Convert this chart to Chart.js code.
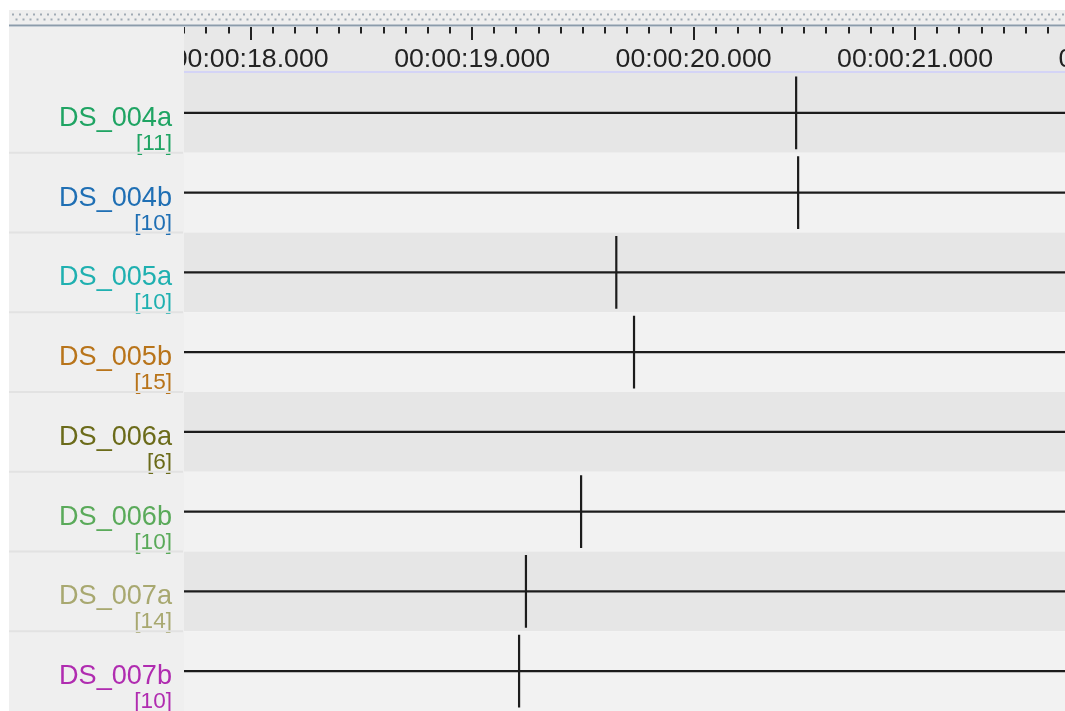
<!DOCTYPE html>
<html>
<head>
<meta charset="utf-8">
<script src="https://cdn.jsdelivr.net/npm/chart.js@4"></script>
<style>
  html, body { margin: 0; padding: 0; background: #fff; }
  #timeline { display: block; }
</style>
</head>
<body>
<canvas id="timeline" width="1065" height="711"></canvas>
<script>
// rows (top to bottom)
var rowNames = ['DS_004a', 'DS_004b', 'DS_005a', 'DS_005b', 'DS_006a', 'DS_006b', 'DS_007a', 'DS_007b'];
var rowCounts = ['[11]', '[10]', '[10]', '[15]', '[6]', '[10]', '[14]', '[10]'];
var rowColors = ['#1fa463', '#1f6fb4', '#1fb0b0', '#b8741a', '#6b6b1a', '#5aaa5a', '#a8a870', '#b02cb0'];
// event time (seconds) for each row, null = no event in view
var eventTimes = [20.463, 20.472, 19.651, 19.731, null, 19.492, 19.243, 19.212];
// ruler
var tickValues = [18, 19, 20, 21, 22];
var tickLabels = ['00:00:18.000', '00:00:19.000', '00:00:20.000', '00:00:21.000', '00:00:22.000'];
var xMin = 17.699, xMax = 21.677;

var FONT = '"Liberation Sans", Arial, sans-serif';

// horizontal squeeze so a sample string hits a given width
function fitScale(ctx, size, sample, width) {
  ctx.save();
  ctx.font = size + 'px ' + FONT;
  var w = ctx.measureText(sample).width;
  ctx.restore();
  return width / w;
}

function squeezedText(ctx, text, x, y, size, color, align, sx) {
  ctx.save();
  ctx.font = size + 'px ' + FONT;
  ctx.fillStyle = color;
  ctx.textAlign = align;
  ctx.textBaseline = 'alphabetic';
  ctx.translate(x, y);
  ctx.scale(sx, 1);
  ctx.fillText(text, 0, 0);
  ctx.restore();
}

var timelinePlugin = {
  id: 'timeline',
  beforeDraw: function(chart) {
    var ctx = chart.ctx;
    var area = chart.chartArea;
    var xs = chart.scales.x, ys = chart.scales.y;
    var timeSx = fitScale(ctx, 26, '00:00:19.000', 156);
    var nameSx = fitScale(ctx, 28, 'DS_004a', 113);
    var countSx = fitScale(ctx, 22, '[11]', 36);
    ctx.save();

    // top dotted band
    ctx.fillStyle = '#eeeeee';
    ctx.fillRect(9, 10, chart.width - 9, 15);
    ctx.fillStyle = '#a0aab4';
    for (var dx = 12; dx < chart.width; dx += 7) {
      ctx.fillRect(dx, 13.5, 2, 2);
      ctx.fillRect(dx + 3.5, 18.5, 2, 2);
    }
    ctx.fillStyle = '#8c9cab';
    ctx.fillRect(9, 24.5, chart.width - 9, 2);

    // left panel + ruler background
    ctx.fillStyle = '#efefef';
    ctx.fillRect(9, 27, area.left - 9, chart.height - 27);
    ctx.fillStyle = '#e8e8e8';
    ctx.fillRect(area.left, 27, area.right - area.left, area.top - 27);
    ctx.fillStyle = '#d4d4f6';
    ctx.fillRect(area.left, area.top - 2, area.right - area.left, 2);

    // row backgrounds and label separators
    for (var i = 0; i < rowNames.length; i++) {
      var y0 = ys.getPixelForValue(i), y1 = ys.getPixelForValue(i + 1);
      ctx.fillStyle = i % 2 === 0 ? '#e6e6e6' : '#f2f2f2';
      ctx.fillRect(area.left, y0, area.right - area.left, y1 - y0);
      if (i > 0) {
        ctx.fillStyle = '#e2e2e2';
        ctx.fillRect(9, y0 - 1, area.left - 10, 2);
      }
      var yc = ys.getPixelForValue(i + 0.5);
      squeezedText(ctx, rowNames[i], 172, yc + 13, 28, rowColors[i], 'right', nameSx);
      squeezedText(ctx, rowCounts[i], 172, yc + 37, 22, rowColors[i], 'right', countSx);
    }

    // ruler ticks and labels, clipped to the plot width
    ctx.beginPath();
    ctx.rect(area.left, 0, area.right - area.left, area.top);
    ctx.clip();
    ctx.fillStyle = '#222';
    for (var t = Math.ceil(xMin * 10); t <= Math.floor(xMax * 10) + 1; t++) {
      var px = Math.round(xs.getPixelForValue(t / 10));
      var major = t % 10 === 0;
      ctx.fillRect(px - 1, 27, 2, major ? 13 : 6.5);
    }
    for (var k = 0; k < tickValues.length; k++) {
      squeezedText(ctx, tickLabels[k], xs.getPixelForValue(tickValues[k]), 67, 26, '#222', 'center', timeSx);
    }
    ctx.restore();
  }
};

var datasets = [];
rowNames.forEach(function(name, i) {
  datasets.push({
    label: name,
    data: [{ x: xMin, y: i + 0.5 }, { x: xMax, y: i + 0.5 }],
    borderColor: '#1c1c1c',
    borderWidth: 2.2,
    pointRadius: 0,
    showLine: true
  });
  if (eventTimes[i] !== null) {
    datasets.push({
      label: name + ' event',
      data: [{ x: eventTimes[i], y: i + 0.045 }, { x: eventTimes[i], y: i + 0.955 }],
      borderColor: '#1c1c1c',
      borderWidth: 2.2,
      pointRadius: 0,
      showLine: true
    });
  }
});

var chart = new Chart(document.getElementById('timeline').getContext('2d'), {
  type: 'scatter',
  data: { datasets: datasets },
  plugins: [timelinePlugin],
  options: {
    responsive: false,
    animation: false,
    layout: { padding: { left: 184, top: 73, right: 0, bottom: 0 } },
    plugins: { legend: { display: false }, tooltip: { enabled: false } },
    scales: {
      x: { type: 'linear', display: false, min: xMin, max: xMax },
      y: { type: 'linear', display: false, min: 0, max: rowNames.length, reverse: true }
    }
  }
});
</script>
</body>
</html>
